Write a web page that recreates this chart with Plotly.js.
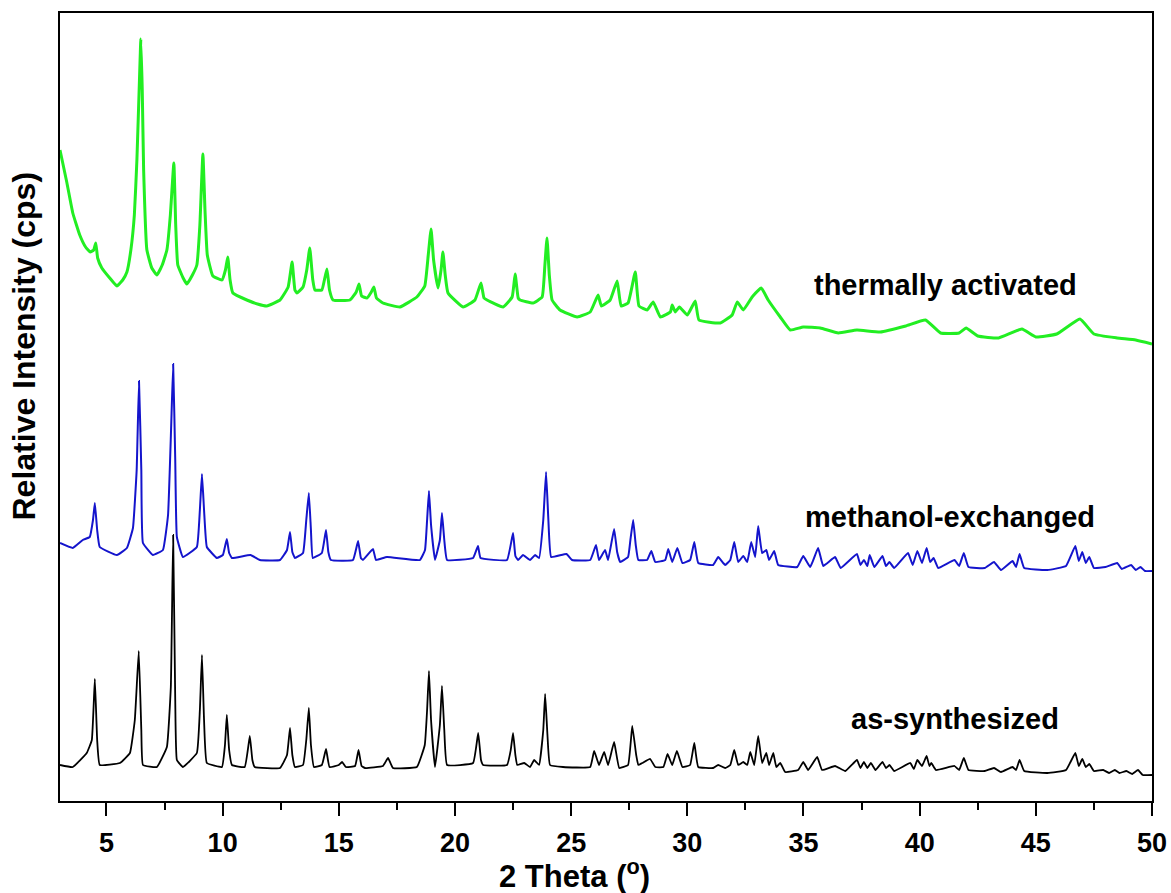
<!DOCTYPE html>
<html>
<head>
<meta charset="utf-8">
<script src="https://cdn.plot.ly/plotly-3.0.1.min.js"></script>
<style>html,body{margin:0;padding:0;background:#fff;}#chart{width:1171px;height:893px;}</style>
</head>
<body>
<div id="chart"></div>
<script>
// 2 Theta (degrees) and relative intensity (arbitrary units, patterns stacked)
const thermX = [3.0,3.29,3.55,3.85,4.1,4.3,4.45,4.54,4.62,4.8,5.14,5.45,5.7,5.88,6.05,6.2,6.31,6.42,6.48,6.54,6.6,6.74,6.95,7.17,7.4,7.6,7.75,7.9,7.98,8.07,8.3,8.46,8.7,8.89,9.02,9.15,9.24,9.34,9.58,9.97,10.12,10.22,10.32,10.44,11.04,11.5,11.9,12.47,12.82,12.99,13.11,13.2,13.46,13.62,13.75,13.88,13.97,14.27,14.38,14.49,14.6,14.75,15.48,15.75,15.87,15.98,16.21,16.4,16.51,16.62,16.9,17.63,18.36,18.7,18.85,18.97,19.08,19.27,19.4,19.48,19.58,19.7,20.35,20.86,21.12,21.25,21.38,22.07,22.46,22.59,22.72,22.8,23.36,23.75,23.87,23.96,24.06,24.18,24.52,25.26,25.82,26.16,26.3,26.68,26.98,27.15,27.45,27.76,27.92,28.27,28.53,28.84,29.27,29.35,29.48,29.66,30.0,30.34,30.5,31.42,31.93,32.15,32.41,32.79,33.18,33.48,34.0,34.43,34.99,35.72,36.5,37.3,38.3,39.4,40.25,40.9,41.7,42.0,42.5,43.4,44.4,45.0,45.9,46.9,47.5,48.5,49.3,50.0];
const thermY = [651,619,588,566,554,549,551,558,543,533,523,515,521,529,551,586,641,721,762,711,631,551,533,526,536,551,586,638,576,536,523,517,526,536,576,647,591,546,525,521,531,544,521,508,501,497,495,501,514,539,511,508,514,531,553,521,511,511,521,532,511,501,501,509,517,505,503,509,514,503,498,494,504,515,546,572,541,513,531,549,526,508,494,501,518,503,501,494,504,527,503,501,498,504,536,563,526,501,491,484,489,506,495,501,520,495,498,529,495,491,499,484,489,496,489,494,486,500,481,478,486,499,491,504,513,501,484,471,474,473,468,471,469,475,481,468,468,473,465,463,472,464,467,482,467,463,461,457];

const methX = [3.0,3.55,3.98,4.28,4.42,4.5,4.6,4.71,5.45,5.88,6.14,6.3,6.4,6.5,6.57,7.0,7.43,7.65,7.78,7.87,7.96,8.03,8.29,8.89,9.02,9.11,9.2,9.32,9.75,10.01,10.18,10.28,10.4,11.2,11.6,12.47,12.77,12.9,13.0,13.11,13.46,13.6,13.71,13.8,13.88,14.27,14.45,14.55,14.66,15.61,15.83,15.95,16.04,16.47,16.6,17.07,18.49,18.71,18.8,18.88,18.97,19.14,19.35,19.44,19.54,19.66,20.78,20.99,21.1,22.24,22.5,22.6,22.72,22.93,23.23,23.45,23.62,23.8,23.92,24.02,24.14,24.8,25.04,25.82,26.07,26.2,26.46,26.59,26.85,26.98,27.11,27.45,27.55,27.67,27.78,27.89,28.27,28.45,28.62,29.05,29.18,29.35,29.57,29.79,30.12,30.3,30.47,31.11,31.33,31.63,31.85,32.02,32.19,32.41,32.58,32.75,32.92,33.05,33.22,33.4,33.52,33.74,33.91,34.73,34.99,35.29,35.63,35.85,36.36,36.6,37.3,37.45,37.6,37.75,37.85,38.05,38.4,38.55,38.7,38.9,39.5,39.7,39.9,40.1,40.3,40.45,40.6,40.8,41.5,41.7,41.9,42.1,42.8,43.2,43.5,44.0,44.15,44.3,44.5,45.5,46.3,46.7,46.85,47.0,47.15,47.3,47.5,48.0,48.5,48.7,49.1,49.3,49.5,49.7,50.0];
const methY = [258,253,261,264,281,298,271,254,246,253,273,331,420,331,258,246,251,286,371,437,341,264,244,254,291,327,291,254,243,246,262,248,243,246,241,241,251,269,249,243,248,281,308,271,243,248,271,249,241,241,260,243,241,252,241,244,241,251,281,310,276,241,261,288,261,241,243,255,243,241,268,245,241,246,241,246,243,281,329,281,244,247,241,241,256,241,251,241,272,249,239,244,261,281,256,241,241,250,239,241,252,239,253,238,241,259,238,236,244,236,241,259,239,245,239,259,244,275,248,251,241,250,236,234,245,234,253,235,244,233,247,236,241,235,246,234,245,235,239,233,248,236,250,238,253,239,243,233,241,235,248,234,233,239,231,240,234,247,233,231,235,255,240,249,238,244,233,234,238,232,236,231,234,230,230];

const asSynX = [3.0,3.55,4.15,4.37,4.5,4.6,4.71,5.58,6.01,6.22,6.39,6.5,6.57,7.17,7.6,7.77,7.87,7.96,8.03,8.29,8.89,9.02,9.11,9.2,9.32,9.97,10.1,10.18,10.28,10.4,10.95,11.17,11.28,11.38,12.47,12.77,12.9,13.0,13.11,13.46,13.6,13.71,13.8,13.93,14.27,14.45,14.6,15.0,15.14,15.3,15.7,15.85,15.98,16.13,16.9,17.12,17.33,18.36,18.7,18.8,18.88,18.97,19.14,19.35,19.44,19.54,19.66,20.78,21.0,21.12,21.21,22.24,22.4,22.5,22.6,22.68,22.98,23.23,23.41,23.62,23.8,23.88,23.98,24.09,24.65,25.82,25.99,26.2,26.42,26.59,26.85,27.07,27.45,27.63,27.8,27.89,28.06,28.4,28.62,28.97,29.15,29.35,29.55,29.79,30.12,30.3,30.47,31.11,31.33,31.63,31.85,32.02,32.19,32.41,32.58,32.71,32.88,33.05,33.22,33.4,33.52,33.7,33.83,34.0,34.21,34.77,34.99,35.2,35.59,35.8,36.36,36.8,37.3,37.45,37.6,37.75,37.9,38.1,38.4,38.55,38.7,38.9,39.6,39.75,39.9,40.1,40.3,40.42,40.5,40.7,41.5,41.7,41.9,42.1,42.8,43.2,43.5,44.0,44.15,44.3,44.5,45.5,46.3,46.7,46.85,47.0,47.15,47.3,47.5,47.9,48.15,48.4,48.6,48.9,49.15,49.4,49.6,50.0];
const asSynY = [36,34,48,61,122,61,36,38,48,81,150,71,36,34,54,114,266,101,41,34,48,91,146,81,38,34,56,86,51,36,34,65,41,34,33,46,73,46,34,36,61,93,56,34,36,52,34,36,39,34,35,51,35,33,35,43,33,34,56,91,130,81,34,76,115,71,36,38,68,41,36,36,51,68,46,36,38,34,41,36,71,107,66,36,34,34,50,36,49,36,59,33,36,75,46,36,38,42,34,34,47,36,50,34,36,58,34,33,36,33,36,51,36,39,36,49,36,65,38,48,36,48,34,38,29,31,39,31,44,31,35,30,41,33,39,33,38,31,39,33,36,30,38,32,41,35,45,35,38,31,35,31,43,31,30,33,29,34,31,41,30,28,31,48,35,42,34,37,30,31,28,31,28,30,27,31,26,26];

const seriesNames = ['thermally activated', 'methanol-exchanged', 'as-synthesized'];
const xTickVals = [5,10,15,20,25,30,35,40,45,50];
const xTickText = ['5','10','15','20','25','30','35','40','45','50'];

const FONT = 'Liberation Sans, Arial, Helvetica, sans-serif';

const traces = [
  {x: thermX, y: thermY, name: seriesNames[0], mode: 'lines', line: {color: '#22ee22', width: 3, shape: 'spline', smoothing: 0.35}, hoverinfo: 'x+y'},
  {x: methX, y: methY, name: seriesNames[1], mode: 'lines', line: {color: '#1414cc', width: 2, shape: 'spline', smoothing: 0.3}, hoverinfo: 'x+y'},
  {x: asSynX, y: asSynY, name: seriesNames[2], mode: 'lines', line: {color: '#000000', width: 1.8, shape: 'spline', smoothing: 0.3}, hoverinfo: 'x+y'}
];

const layout = {
  width: 1171, height: 893,
  margin: {l: 60, r: 19, t: 13, b: 92, pad: 0},
  paper_bgcolor: '#ffffff', plot_bgcolor: '#ffffff',
  showlegend: false,
  font: {family: FONT, color: '#000', weight: 'bold'},
  xaxis: {
    range: [3, 50], tickmode: 'array', tickvals: xTickVals, ticktext: xTickText,
    ticks: 'outside', ticklen: 13, tickwidth: 2, tickcolor: '#000',
    ticklabelstandoff: 4,
    minor: {dtick: 2.5, tick0: 0, ticks: 'outside', ticklen: 7, tickwidth: 2, tickcolor: '#000', showgrid: false},
    showline: true, linecolor: '#000', linewidth: 2, mirror: true,
    showgrid: false, zeroline: false,
    tickfont: {family: FONT, size: 27, color: '#000', weight: 'bold'}
  },
  yaxis: {
    range: [0, 788], showticklabels: false, ticks: '',
    showline: true, linecolor: '#000', linewidth: 2, mirror: true,
    showgrid: false, zeroline: false
  },
  annotations: [
    {text: '2 Theta (<sup>o</sup>)', xref: 'paper', yref: 'paper', x: 0.4716, y: -0.0926,
     xanchor: 'center', yanchor: 'middle', showarrow: false,
     font: {family: FONT, size: 31, color: '#000', weight: 'bold'}},
    {text: 'Relative Intensity (cps)', xref: 'paper', yref: 'paper', x: -0.033, y: 0.578,
     xanchor: 'center', yanchor: 'middle', textangle: -90, showarrow: false,
     font: {family: FONT, size: 32, color: '#000', weight: 'bold'}},
    {text: seriesNames[0], xref: 'x', yref: 'y', x: 41.1, y: 516, xanchor: 'center', yanchor: 'middle', showarrow: false,
     font: {family: FONT, size: 29, color: '#000', weight: 'bold'}},
    {text: seriesNames[1], xref: 'x', yref: 'y', x: 41.3, y: 284, xanchor: 'center', yanchor: 'middle', showarrow: false,
     font: {family: FONT, size: 29, color: '#000', weight: 'bold'}},
    {text: seriesNames[2], xref: 'x', yref: 'y', x: 41.5, y: 82, xanchor: 'center', yanchor: 'middle', showarrow: false,
     font: {family: FONT, size: 29, color: '#000', weight: 'bold'}}
  ]
};

Plotly.newPlot('chart', traces, layout, {staticPlot: true, displayModeBar: false});
</script>
</body>
</html>
